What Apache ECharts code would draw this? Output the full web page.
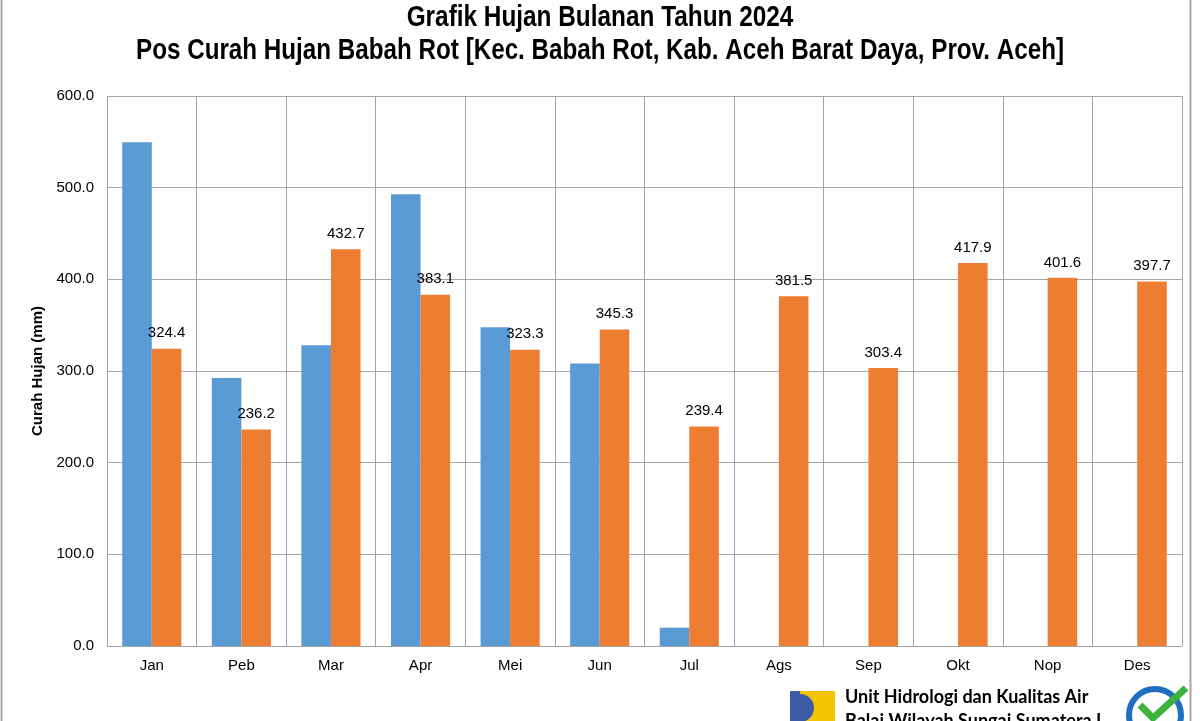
<!DOCTYPE html>
<html>
<head>
<meta charset="utf-8">
<script src="https://cdn.jsdelivr.net/npm/echarts@6/dist/echarts.min.js"></script>
<style>html,body{margin:0;padding:0;background:#fff}#c{width:1200px;height:721px}</style>
</head>
<body>
<div id="c"></div>
<script>
const months = ['Jan','Peb','Mar','Apr','Mei','Jun','Jul','Ags','Sep','Okt','Nop','Des'];
const hujan2024 = [549.5, 292.3, 328.1, 492.9, 347.7, 308.3, 20.0, null, null, null, null, null];
const rataRata = [324.4, 236.2, 432.7, 383.1, 323.3, 345.3, 239.4, 381.5, 303.4, 417.9, 401.6, 397.7];
const yTicks = [0, 100, 200, 300, 400, 500, 600];
const titleLines = ['Grafik Hujan Bulanan Tahun 2024', 'Pos Curah Hujan Babah Rot [Kec. Babah Rot, Kab. Aceh Barat Daya, Prov. Aceh]'];

const FONT = "'Liberation Sans', Arial, sans-serif";
const chart = echarts.init(document.getElementById('c'));
const titleStyle = { fontFamily: FONT, fontWeight: 'bold', fontSize: 29, fill: '#000', align: 'center', verticalAlign: 'middle' };
chart.setOption({
  animation: false,
  backgroundColor: '#fff',
  grid: { left: 107, right: 18, top: 96, bottom: 75, containLabel: false },
  xAxis: {
    type: 'category', data: months,
    axisLine: { lineStyle: { color: '#a6a6a6' } },
    axisTick: { show: false },
    splitLine: { show: true, interval: 0, lineStyle: { color: '#a6a6a6' } },
    axisLabel: { fontFamily: FONT, fontSize: 15, color: '#000', margin: 12 }
  },
  yAxis: {
    type: 'value', min: yTicks[0], max: yTicks[yTicks.length - 1], interval: 100,
    name: 'Curah Hujan (mm)', nameLocation: 'middle', nameGap: 52, nameRotate: 90,
    nameTextStyle: { fontFamily: FONT, fontWeight: 'bold', fontSize: 15, color: '#000' },
    axisLine: { show: true, lineStyle: { color: '#a6a6a6' } },
    axisTick: { show: false },
    splitLine: { lineStyle: { color: '#a6a6a6' } },
    axisLabel: { fontFamily: FONT, fontSize: 15, color: '#000', margin: 13, formatter: v => v.toFixed(1) }
  },
  series: [
    { type: 'bar', data: hujan2024, barGap: '0%', barCategoryGap: '34%', itemStyle: { color: '#5B9BD5' } },
    { type: 'bar', data: rataRata, itemStyle: { color: '#ED7D31' },
      label: { show: true, position: 'top', distance: 8, fontFamily: FONT, fontSize: 15, color: '#000', formatter: p => p.value.toFixed(1) } }
  ],
  graphic: [
    { type: 'text', x: 600, y: 18, scaleX: 0.84, style: Object.assign({ text: titleLines[0] }, titleStyle) },
    { type: 'text', x: 600, y: 51, scaleX: 0.835, style: Object.assign({ text: titleLines[1] }, titleStyle) },
    { type: 'line', shape: { x1: 1.5, y1: 0, x2: 1.5, y2: 721 }, style: { stroke: '#a6a6a6', lineWidth: 2 } },
    { type: 'line', shape: { x1: 1190.5, y1: 0, x2: 1190.5, y2: 721 }, style: { stroke: '#a6a6a6', lineWidth: 2 } },
    { type: 'rect', shape: { x: 790, y: 691, width: 45, height: 30 }, style: { fill: '#F5C400' } },
    { type: 'rect', shape: { x: 790, y: 691, width: 10, height: 30 }, style: { fill: '#3B5BA5' } },
    { type: 'sector', shape: { cx: 800, cy: 708, r0: 0, r: 14, startAngle: -Math.PI / 2, endAngle: Math.PI / 2 }, style: { fill: '#3B5BA5' } },
    { type: 'text', left: 845, top: 688, style: { text: 'Unit Hidrologi dan Kualitas Air', fontFamily: "Lato, 'Open Sans', sans-serif", fontWeight: 'bold', fontSize: 18, fill: '#000' } },
    { type: 'text', left: 845, top: 712, style: { text: 'Balai Wilayah Sungai Sumatera I', fontFamily: "Lato, 'Open Sans', sans-serif", fontWeight: 'bold', fontSize: 18, fill: '#000' } },
    { type: 'circle', shape: { cx: 1155, cy: 715, r: 26 }, style: { fill: '#fff', stroke: '#1f6fc0', lineWidth: 6 } },
    { type: 'polyline', shape: { points: [[1140, 705], [1153, 718], [1186, 688]] }, style: { stroke: '#3cb43c', lineWidth: 7, fill: null } }
  ]
});
</script>
</body>
</html>
